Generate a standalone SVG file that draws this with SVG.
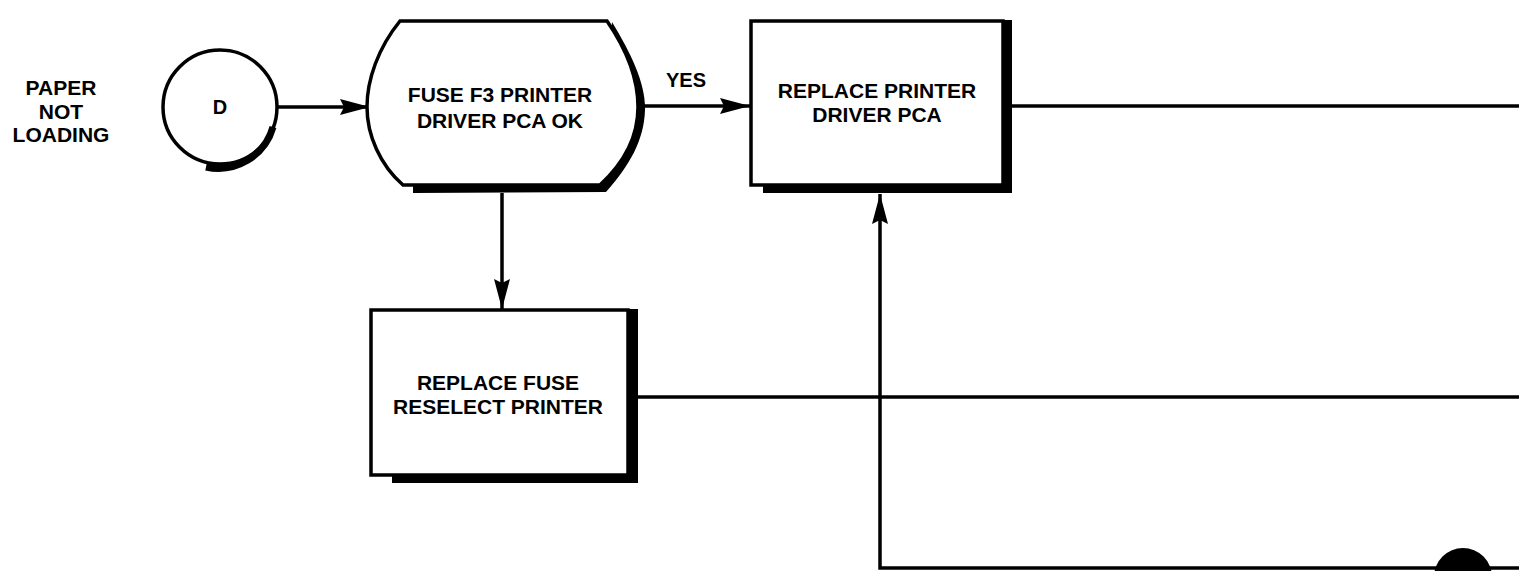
<svg xmlns="http://www.w3.org/2000/svg" width="1519" height="571" viewBox="0 0 1519 571">
<style>
.t{font-family:"Liberation Sans",Arial,sans-serif;font-weight:bold;font-size:21px;fill:#000;text-anchor:middle}
.ln{stroke:#000;stroke-width:3.5;fill:none}
.sh{fill:#000}
.bx{fill:#fff;stroke:#000;stroke-width:3.5}
</style>
<defs>
<marker id="ah" viewBox="0 0 30 18" refX="30" refY="9" markerWidth="30" markerHeight="18" markerUnits="userSpaceOnUse" orient="auto">
<path d="M0,1 L30,9 L0,17 L4,9 Z" fill="#000"/>
</marker>
</defs>
<g id="label-paper">
<text class="t" x="61" y="95">PAPER</text>
<text class="t" x="61" y="119">NOT</text>
<text class="t" x="61" y="142">LOADING</text>
</g>
<g id="connectors">
<line class="ln" x1="278" y1="107" x2="370" y2="107" marker-end="url(#ah)"/>
<line class="ln" x1="639" y1="106" x2="750" y2="106" marker-end="url(#ah)"/>
<text class="t" x="686" y="87" style="font-size:20px">YES</text>
<line class="ln" x1="502" y1="193" x2="502" y2="309" marker-end="url(#ah)"/>
<line class="ln" x1="1012" y1="106" x2="1519" y2="106"/>
<line class="ln" x1="638" y1="397" x2="1519" y2="397"/>
<polyline class="ln" points="1519,568 880,568 880,194" marker-end="url(#ah)"/>
<circle cx="1463" cy="577" r="29" fill="#000"/>
</g>
<g id="node-d">
<circle cx="220" cy="107" r="57" fill="#fff" stroke="#000" stroke-width="3.5"/>
<path d="M272,125 A57,57 0 0 1 205,165" fill="none" stroke="#000" stroke-width="7" transform="translate(1,2)"/>
<text class="t" x="220" y="114" style="font-size:20px">D</text>
</g>
<g id="node-fuse-check">
<path d="M612,22 C632,55 646,85 645,110 C644,140 630,165 606,192 L413,193 L413,186 L600,186 Z" class="sh"/>
<path d="M400,21 L607,21 C627,50 638,80 638,107 C638,135 625,162 600,185 L403,185 C380,165 367,135 367,107 C367,80 378,48 400,21 Z" class="bx"/>
<text class="t" x="500" y="102">FUSE F3 PRINTER</text>
<text class="t" x="500" y="128">DRIVER PCA OK</text>
</g>
<g id="node-replace-pca">
<rect x="1003" y="20" width="9" height="173" class="sh"/>
<rect x="763" y="184" width="249" height="9" class="sh"/>
<rect x="751" y="21" width="252" height="164" class="bx"/>
<text class="t" x="877" y="98">REPLACE PRINTER</text>
<text class="t" x="877" y="122">DRIVER PCA</text>
</g>
<g id="node-replace-fuse">
<rect x="628" y="309" width="10" height="174" class="sh"/>
<rect x="392" y="474" width="246" height="9" class="sh"/>
<rect x="371" y="310" width="257" height="165" class="bx"/>
<text class="t" x="498" y="390">REPLACE FUSE</text>
<text class="t" x="498" y="414">RESELECT PRINTER</text>
</g>
</svg>
